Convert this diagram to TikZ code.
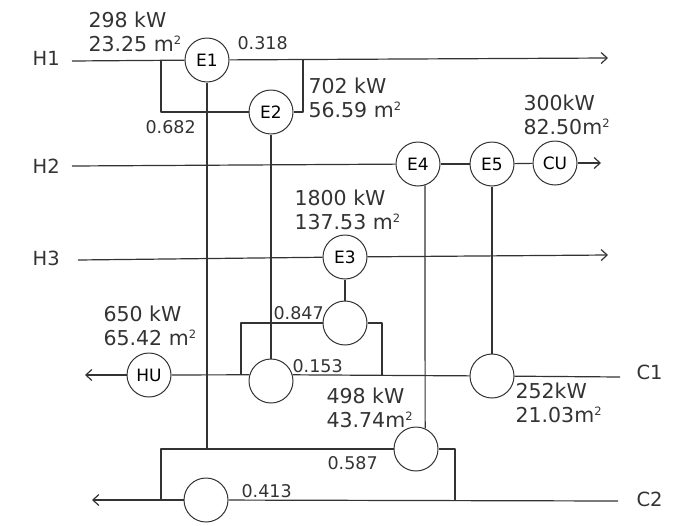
\documentclass[tikz,border=0pt]{standalone}
\usepackage{fontspec}
\usetikzlibrary{arrows.meta}
\setmainfont{DejaVu Sans}
\definecolor{ink}{HTML}{333333}
\newcommand{\sq}{\raisebox{0.62ex}{\fontsize{11.5}{11.5}\selectfont 2}}
\tikzset{
	hx/.style={circle,draw=ink,fill=white,line width=1pt,minimum size=44pt,inner sep=0pt,font=\fontsize{17}{20}\selectfont},
	duty/.style={anchor=west,inner sep=0pt,align=left,text=ink,font=\fontsize{20.5}{24.5}\selectfont},
	frac/.style={anchor=west,inner sep=0pt,text=ink,font=\fontsize{17.5}{20}\selectfont},
	stream/.style={anchor=west,inner sep=0pt,text=ink,font=\fontsize{19.5}{22}\selectfont},
}
\begin{document}
\begin{tikzpicture}[x=1pt,y=-1pt,>={Straight Barb[length=6pt,width=11pt]},line width=1.2pt,draw=ink,line join=round]
	\useasboundingbox (0,0) rectangle (699,525);
	% stream ends
	\coordinate (H1a) at (72,61);
	\coordinate (H1b) at (608,58);
	\coordinate (H2a) at (72,166);
	\coordinate (H2b) at (601,163);
	\coordinate (H3a) at (78,260);
	\coordinate (H3b) at (608,255);
	\coordinate (C1a) at (620,377);
	\coordinate (C1b) at (85,375);
	\coordinate (C2a) at (618,501);
	\coordinate (C2b) at (92,500);
	% splits
	\coordinate (S1l) at (161,61);
	\coordinate (S1r) at (303,60);
	\coordinate (S2l) at (241,375);
	\coordinate (S2r) at (382,376);
	\coordinate (S3l) at (161,500);
	\coordinate (S3r) at (455,501);
	\coordinate (E1end) at (207,448);
	
	% exchangers
	\node[hx] (E1) at (207,60) {E1};
	\node[hx] (E2) at (271,112) {E2};
	\node[hx] (E3) at (345,257) {E3};
	\node[hx] (E4) at (418,164) {E4};
	\node[hx] (E5) at (492,164) {E5};
	\node[hx] (CU) at (555,163) {CU};
	\node[hx] (HU) at (149,375) {HU};
	\node[hx] (E3c) at (345,323) {};
	\node[hx] (E2c) at (271,381) {};
	\node[hx] (E5c) at (492,376) {};
	\node[hx] (E4c) at (416,449) {};
	\node[hx] (E1c) at (206,500) {};
	
	% hot side
	\draw (H1a) -- (E1);
	\draw[->] (E1) -- (H1b);
	\draw (S1l) |- (E2);
	\draw (S1r) |- (E2);
	\draw (H2a) -- (E4);
	\draw (E4) -- (E5);
	\draw (E5) -- (CU);
	\draw[->] (CU) -- (H2b);
	\draw (H3a) -- (E3);
	\draw[->] (E3) -- (H3b);
	
	% cold side
	\draw (C1a) -- (E5c);
	\draw (E5c) -- (E2c.16);
	\draw (E2c.164) -- (HU);
	\draw[->] (HU) -- (C1b);
	\draw (S2l) |- (E3c);
	\draw (S2r) |- (E3c);
	\draw (C2a) -- (E1c);
	\draw[->] (E1c) -- (C2b);
	\draw (S3l) |- (E4c);
	\draw (S3r) |- (E4c);
	
	% matches
	\draw (E1) -- (E1end);
	\draw (E2) -- (E2c);
	\draw (E3) -- (E3c);
	\draw (E4.-72) -- (E4c.66);
	\draw (E5) -- (E5c);
	
	% duties
	\node[duty] (d1) at (88,32) {298 kW\\23.25 m\sq};
	\node[duty] (d2) at (308,98) {702 kW\\56.59 m\sq};
	\node[duty] (d3) at (523,115) {300kW\\82.50m\sq};
	\node[duty] (d4) at (294,210) {1800 kW\\137.53 m\sq};
	\node[duty] (d5) at (103,326) {650 kW\\65.42 m\sq};
	\node[duty] (d6) at (326,408) {498 kW\\43.74m\sq};
	\node[duty] (d7) at (515,403) {252kW\\21.03m\sq};
	
	% split fractions
	\node[frac] (f1) at (237,43) {0.318};
	\node[frac] (f2) at (145,127) {0.682};
	\node[frac] (f3) at (273,313) {0.847};
	\node[frac] (f4) at (292,366) {0.153};
	\node[frac] (f5) at (327,463) {0.587};
	\node[frac] (f6) at (241,491) {0.413};
	
	% stream names
	\node[stream] (H1) at (32,58) {H1};
	\node[stream] (H2) at (32,166) {H2};
	\node[stream] (H3) at (32,258) {H3};
	\node[stream] (C1) at (636,372) {C1};
	\node[stream] (C2) at (636,499) {C2};
\end{tikzpicture}
\end{document}
